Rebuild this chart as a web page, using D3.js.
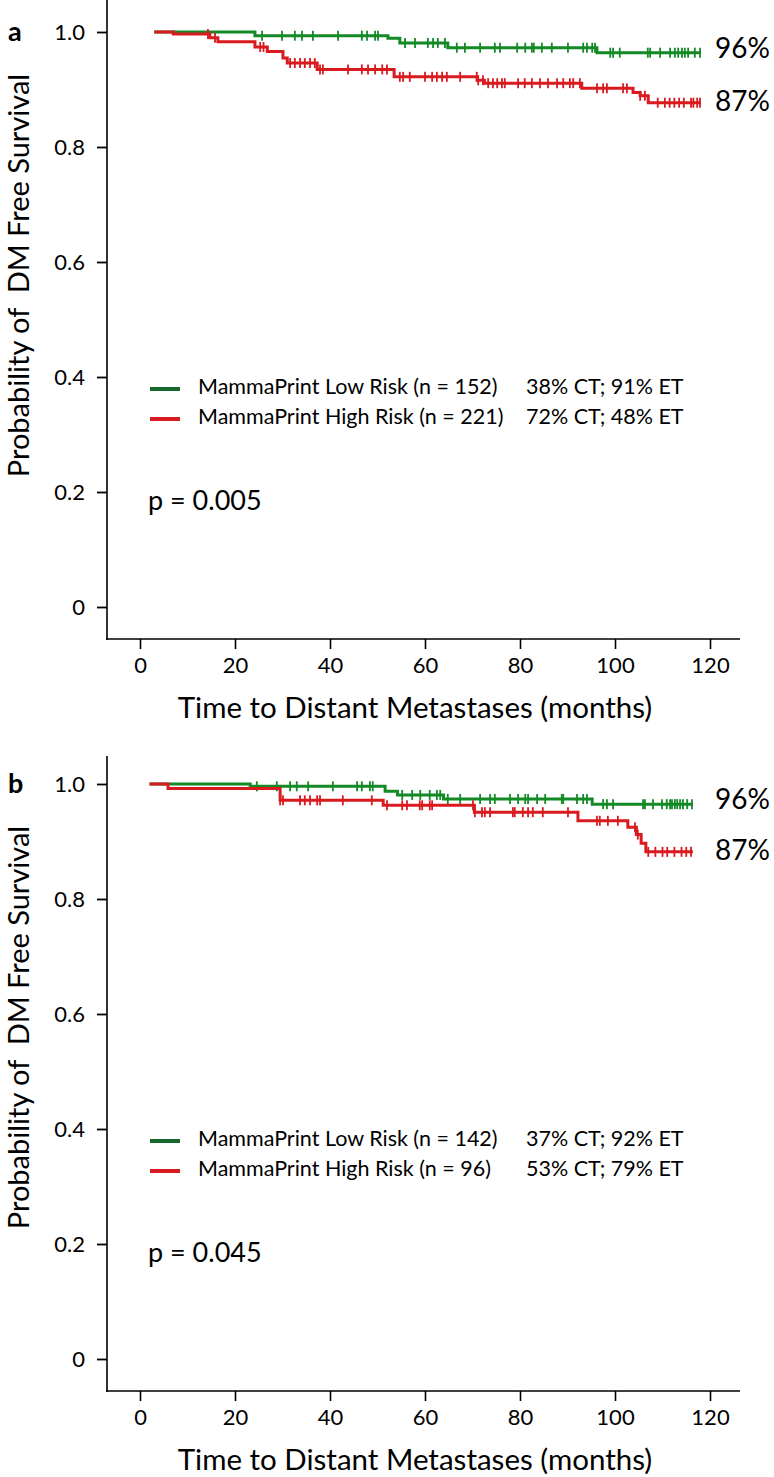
<!DOCTYPE html>
<html>
<head>
<meta charset="utf-8">
<script src="https://cdn.jsdelivr.net/npm/d3@7"></script>
<style>
  html, body { margin: 0; padding: 0; background: #fff; }
  svg { display: block; }
  text { font-family: Lato, "Open Sans", sans-serif; fill: #000; }
</style>
</head>
<body>
<svg id="chart" width="774" height="1477"></svg>
<script>
// ---------- data ----------
const xTicks = [0, 20, 40, 60, 80, 100, 120];
const yTicks = [0, 0.2, 0.4, 0.6, 0.8, 1.0];
const yTickLabels = ["0", "0.2", "0.4", "0.6", "0.8", "1.0"];
const panelLetters = ["a", "b"];
const seriesNames = ["MammaPrint Low Risk", "MammaPrint High Risk"];

// Panel a
const aLowN = 152, aHighN = 221;
const aLowTreat = "38% CT; 91% ET", aHighTreat = "72% CT; 48% ET";
const aLowTime = [3, 24.2, 52.2, 54.7, 64.8, 96.2, 118];
const aLowSurv = [1.0, 0.9936, 0.989, 0.981, 0.9727, 0.964, 0.964];
const aLowCensor = [25.7, 29.9, 32.6, 34.1, 36.4, 41.7, 46.7, 47.8, 49.5, 50.1, 55.8, 57.9, 60.6, 61.7, 62.7, 64.2,
  66.7, 68.4, 71.6, 74.7, 75.8, 79.4, 81.1, 82.5, 82.9, 84.6, 86.7, 90.1, 93.3, 94.1, 95.2, 95.8, 99, 99.6, 101,
  106.9, 107.4, 109.5, 111.6, 112.6, 113.3, 114.1, 114.7, 115.4, 116.8, 117.9];
const aHighTime = [3, 7, 14.7, 16.4, 24.2, 26.8, 30.1, 31, 37.3, 53.5, 71, 72.5, 93, 103.8, 105.3, 107, 118];
const aHighSurv = [1.0, 0.9965, 0.99, 0.983, 0.974, 0.966, 0.955, 0.946, 0.935, 0.922, 0.916, 0.911, 0.902, 0.895, 0.889, 0.877, 0.877];
const aHighCensor = [14.3, 15.8, 25.3, 26, 31.6, 32.6, 33.7, 34.7, 35.8, 36.8, 37.9, 38.5, 43.8, 46.7, 48, 49.5, 51, 52,
  54.7, 55.4, 56.8, 60, 61.5, 62.5, 63.6, 64.6, 67.4, 70.9, 71.2, 72.2, 73.3, 74.3, 75.2, 76.2, 76.8, 79.6, 81, 82.5,
  84.2, 85.9, 87.8, 89.1, 90.5, 91.2, 92.6, 96.2, 97.5, 98.3, 101.7, 102.5, 105.3, 106.3, 109, 110.5, 111.5, 112.5,
  113.5, 114.5, 116, 116.5, 117.3, 117.9];
const aPValue = "p = 0.005";
const aEndLabels = ["96%", "87%"];

// Panel b
const bLowN = 142, bHighN = 96;
const bLowTreat = "37% CT; 92% ET", bHighTreat = "53% CT; 79% ET";
const bLowTime = [2, 23.2, 51.6, 54.2, 63.9, 95.2, 116.4];
const bLowSurv = [1.0, 0.996, 0.9875, 0.981, 0.974, 0.965, 0.965];
const bLowCensor = [24.6, 28.8, 31.6, 33, 35.4, 40.6, 45.7, 46.7, 48.4, 49, 55.2, 57.3, 59, 61, 62.5, 63.2, 64.8,
  67.4, 71.6, 73.7, 74.7, 77.9, 79.6, 81.1, 81.7, 83.6, 85.3, 88.8, 89.1, 92, 93.3, 94.1, 97.5, 98.3, 99.6,
  105.9, 106.3, 108, 109.9, 110.9, 111.6, 112, 112.6, 113.1, 113.7, 114.3, 115.2, 116.2];
const bHighTime = [2, 5.9, 29.5, 51.2, 70.4, 92.2, 102.7, 104.5, 105.5, 106.5, 116.4];
const bHighSurv = [1.0, 0.992, 0.9716, 0.963, 0.951, 0.936, 0.925, 0.912, 0.897, 0.882, 0.882];
const bHighCensor = [29.5, 30.1, 33.7, 34.7, 35.8, 37.3, 37.9, 42.7, 48.8, 52, 55.2, 56.2, 58.9, 59.4, 61, 61.5,
  70.1, 70.5, 72, 72.6, 73.7, 78.5, 78.9, 80.6, 81.7, 82.7, 84.8, 90.1, 96.2, 96.8, 98.5, 100.6, 104.2, 104.8,
  107, 108.5, 110, 111, 112.5, 114, 115, 116];
const bPValue = "p = 0.045";
const bEndLabels = ["96%", "87%"];

// ---------- rendering ----------
const GREEN = "#138a25", GREEN_LEG = "#17682c", RED = "#d91a1f";
const svg = d3.select("#chart");

const panels = [
  { letter: panelLetters[0], top: 0,
    low: { t: aLowTime, s: aLowSurv, c: aLowCensor, n: aLowN, treat: aLowTreat },
    high: { t: aHighTime, s: aHighSurv, c: aHighCensor, n: aHighN, treat: aHighTreat },
    p: aPValue, ends: aEndLabels },
  { letter: panelLetters[1], top: 752,
    low: { t: bLowTime, s: bLowSurv, c: bLowCensor, n: bLowN, treat: bLowTreat },
    high: { t: bHighTime, s: bHighSurv, c: bHighCensor, n: bHighN, treat: bHighTreat },
    p: bPValue, ends: bEndLabels }
];

const x = d3.scaleLinear().domain([0, 120]).range([140, 710]);

function survAt(t, times, surv) {
  let v = surv[0];
  for (let i = 0; i < times.length; i++) { if (times[i] <= t) v = surv[i]; }
  return v;
}

panels.forEach(P => {
  const g = svg.append("g").attr("transform", `translate(0,${P.top})`);
  const y = d3.scaleLinear().domain([0, 1]).range([607, 32]);
  const axisY = 639, axisX = 107;

  // axis lines
  g.append("line").attr("x1", axisX).attr("x2", axisX).attr("y1", P.top === 0 ? 0 : 4).attr("y2", axisY + 1)
    .attr("stroke", "#000").attr("stroke-width", 1.6);
  g.append("line").attr("x1", axisX - 0.8).attr("x2", 740).attr("y1", axisY).attr("y2", axisY)
    .attr("stroke", "#000").attr("stroke-width", 1.6);

  // x axis
  const xa = g.append("g").attr("transform", `translate(0,${axisY})`)
    .call(d3.axisBottom(x).tickValues(xTicks).tickSize(10).tickSizeOuter(0).tickPadding(8).tickFormat(d3.format("d")));
  xa.select(".domain").remove();
  xa.selectAll(".tick line").attr("stroke", "#000").attr("stroke-width", 1.6);
  xa.selectAll(".tick text").attr("font-size", 22).attr("font-family", "Lato").attr("fill", "#000");

  // y axis
  const ya = g.append("g").attr("transform", `translate(${axisX},0)`)
    .call(d3.axisLeft(y).tickValues(yTicks).tickSize(10).tickSizeOuter(0).tickPadding(12)
      .tickFormat((d, i) => yTickLabels[i]));
  ya.select(".domain").remove();
  ya.selectAll(".tick line").attr("stroke", "#000").attr("stroke-width", 1.8);
  ya.selectAll(".tick text").attr("font-size", 22).attr("font-family", "Lato").attr("fill", "#000");

  // axis titles
  g.append("text").attr("x", 415).attr("y", 718).attr("text-anchor", "middle")
    .attr("font-size", 29.5).text("Time to Distant Metastases (months)");
  g.append("text").attr("transform", `translate(29,${(y(0) + y(1)) / 2 - 44}) rotate(-90)`)
    .attr("text-anchor", "middle").attr("font-size", 29).text("Probability of  DM Free Survival")
    .style("white-space", "pre");

  // panel letter
  g.append("text").attr("x", 8).attr("y", 41).attr("font-size", 27).attr("font-weight", "bold").text(P.letter);

  // curves
  const line = d3.line().x(d => x(d[0])).y(d => y(d[1])).curve(d3.curveStepAfter);
  [[P.low, GREEN], [P.high, RED]].forEach(([S, col]) => {
    const pts = S.t.map((t, i) => [t, S.s[i]]);
    g.append("path").datum(pts).attr("d", line).attr("fill", "none")
      .attr("stroke", col).attr("stroke-width", 3);
    g.selectAll(null).data(S.c).enter().append("line")
      .attr("x1", d => x(d)).attr("x2", d => x(d))
      .attr("y1", d => y(survAt(d, S.t, S.s)) - 5).attr("y2", d => y(survAt(d, S.t, S.s)) + 5)
      .attr("stroke", col).attr("stroke-width", 1.8);
  });

  // end labels
  g.append("text").attr("x", 715).attr("y", y(P.low.s[P.low.s.length - 1]) - 2).attr("font-size", 28)
    .attr("dominant-baseline", "middle").text(P.ends[0]);
  g.append("text").attr("x", 715).attr("y", y(P.high.s[P.high.s.length - 1]) + 1).attr("font-size", 28)
    .attr("dominant-baseline", "middle").text(P.ends[1]);

  // legend
  const legRows = [
    { name: seriesNames[0], n: P.low.n, treat: P.low.treat, col: GREEN_LEG, yy: 389 },
    { name: seriesNames[1], n: P.high.n, treat: P.high.treat, col: RED, yy: 419 }
  ];
  legRows.forEach(r => {
    g.append("line").attr("x1", 150).attr("x2", 180).attr("y1", r.yy).attr("y2", r.yy)
      .attr("stroke", r.col).attr("stroke-width", 4);
    g.append("text").attr("x", 198).attr("y", r.yy).attr("dominant-baseline", "middle")
      .attr("font-size", 21.5).text(`${r.name} (n = ${r.n})`);
    g.append("text").attr("x", 526).attr("y", r.yy).attr("dominant-baseline", "middle")
      .attr("font-size", 21.5).text(r.treat);
  });

  // p value
  g.append("text").attr("x", 148).attr("y", 503).attr("dominant-baseline", "middle")
    .attr("font-size", 27).text(P.p);
});
</script>
</body>
</html>
